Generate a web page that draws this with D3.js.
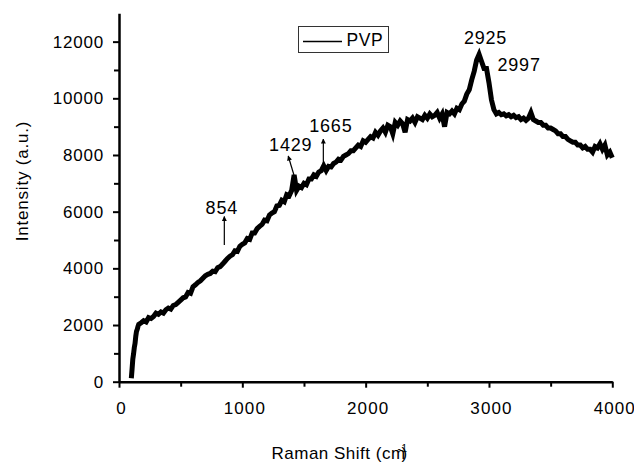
<!DOCTYPE html>
<html>
<head>
<meta charset="utf-8">
<script src="https://cdn.jsdelivr.net/npm/d3@7/dist/d3.min.js"></script>
<style>
  html, body { margin: 0; padding: 0; background: #fff; }
  svg { display: block; }
  text { font-family: "Liberation Sans", Arial, sans-serif; fill: #000; }
</style>
</head>
<body>
<svg id="chart" width="634" height="463"></svg>
<script>
// ---- Data ----
const ramanShift = [100,106,112,118,124,130,136,142,148,154,160,180,200,220,240,260,280,300,320,340,360,380,400,420,440,460,480,500,520,540,560,580,600,620,640,660,680,700,720,740,760,780,800,820,840,860,880,900,920,940,960,980,1000,1020,1040,1060,1080,1100,1120,1140,1160,1180,1200,1220,1240,1260,1280,1300,1320,1340,1360,1380,1400,1420,1440,1460,1480,1500,1520,1540,1560,1580,1600,1620,1640,1660,1680,1700,1720,1740,1760,1780,1800,1820,1840,1860,1880,1900,1920,1940,1960,1980,2000,2020,2040,2060,2080,2100,2120,2140,2160,2180,2200,2220,2240,2260,2280,2300,2320,2340,2360,2380,2400,2420,2440,2460,2480,2500,2520,2540,2560,2580,2600,2620,2640,2660,2680,2700,2720,2740,2760,2780,2800,2820,2840,2860,2880,2900,2920,2940,2960,2980,3000,3020,3040,3060,3080,3100,3120,3140,3160,3180,3200,3220,3240,3260,3280,3300,3320,3340,3360,3380,3400,3420,3440,3460,3480,3500,3520,3540,3560,3580,3600,3620,3640,3660,3680,3700,3720,3740,3760,3780,3800,3820,3840,3860,3880,3900,3920,3940,3960,3980,4000];
const intensity = [120,450,800,980,1200,1350,1600,1780,1850,1950,2020,2080,2150,2110,2260,2230,2300,2420,2380,2460,2420,2540,2600,2560,2690,2720,2800,2880,2960,2990,3150,3120,3350,3420,3500,3560,3650,3740,3790,3820,3900,3880,4020,4060,4150,4250,4350,4430,4480,4620,4600,4780,4850,4900,5050,5020,5250,5250,5400,5480,5550,5700,5680,5880,5950,6000,6200,6220,6400,6350,6600,6560,6750,7300,6750,6900,6850,7000,6950,7150,7150,7300,7250,7400,7450,7620,7450,7600,7580,7700,7750,7850,7820,7950,8000,8050,8150,8150,8250,8350,8300,8500,8450,8550,8650,8600,8800,8700,8850,8950,8800,9050,9000,8750,9150,9050,9200,9100,8800,9250,9200,9300,9150,9350,9300,9250,9400,9300,9450,9350,9400,9500,9300,9450,9000,9500,9450,9550,9450,9650,9600,9800,9900,10150,10300,10650,10950,11350,11550,11300,11050,11050,10550,9950,9600,9450,9500,9420,9450,9380,9420,9350,9400,9320,9350,9250,9300,9220,9300,9500,9250,9200,9150,9150,9050,9050,8950,8950,8900,8850,8750,8750,8650,8650,8550,8500,8450,8450,8350,8350,8250,8300,8200,8200,8100,8300,8250,8400,8200,8350,8000,8100,7900];

const seriesName = "PVP";
const xTickValues = [0, 1000, 2000, 3000, 4000];
const xMinorTicks = [500, 1500, 2500, 3500];
const yTickValues = [0, 2000, 4000, 6000, 8000, 10000, 12000];
const yMinorTicks = [1000, 3000, 5000, 7000, 9000, 11000];
const peakLabels = ["854", "1429", "1665", "2925", "2997"];
const peakShifts = [854, 1429, 1665, 2925, 2997];
const xTitle = "Raman Shift (cm";
const yTitle = "Intensity (a.u.)";

// ---- Layout ----
const svg = d3.select("#chart");
const x = d3.scaleLinear().domain([0, 4000]).range([119, 612.3]);
const y = d3.scaleLinear().domain([0, 13000]).range([381.7, 13.3]);

// ---- Curve ----
const pts = ramanShift.map((s, i) => [s, intensity[i]]);
svg.append("path")
  .datum(pts)
  .attr("fill", "none")
  .attr("stroke", "#000")
  .attr("stroke-width", 5)
  .attr("stroke-linejoin", "miter")
  .attr("d", d3.line().x(d => x(d[0])).y(d => y(d[1])));

// ---- Axes ----
function styleAxis(g) {
  g.select(".domain").attr("stroke", "#000").attr("stroke-width", 2.5);
  g.selectAll(".tick line").attr("stroke", "#000").attr("stroke-width", 2);
  g.selectAll(".tick text")
    .style("font-family", "'Liberation Sans', Arial, sans-serif")
    .style("font-size", "17px")
    .style("letter-spacing", "1.1px")
    .attr("fill", "#000");
}

const xAxisY = y(0);
svg.append("g").attr("transform", `translate(0,${xAxisY})`)
  .call(d3.axisBottom(x).tickValues(xMinorTicks).tickSize(5).tickSizeOuter(0).tickFormat(""))
  .call(g => { g.select(".domain").remove(); g.selectAll(".tick line").attr("stroke", "#000").attr("stroke-width", 2); });
const gx = svg.append("g").attr("transform", `translate(0,${xAxisY})`)
  .call(d3.axisBottom(x).tickValues(xTickValues).tickSize(6).tickPadding(14).tickSizeOuter(0).tickFormat(d3.format("d")))
  .call(styleAxis);
gx.selectAll(".tick text").attr("dx", "2px");

const yAxisX = x(0);
svg.append("g").attr("transform", `translate(${yAxisX},0)`)
  .call(d3.axisLeft(y).tickValues(yMinorTicks).tickSize(5).tickSizeOuter(0).tickFormat(""))
  .call(g => { g.select(".domain").remove(); g.selectAll(".tick line").attr("stroke", "#000").attr("stroke-width", 2); });
svg.append("g").attr("transform", `translate(${yAxisX},0)`)
  .call(d3.axisLeft(y).tickValues(yTickValues).tickSize(6).tickPadding(9).tickSizeOuter(0).tickFormat(d3.format("d")))
  .call(styleAxis)
  .call(g => g.selectAll(".tick text").style("letter-spacing", "0.8px"));

// ---- Axis titles ----
const xt = svg.append("text")
  .attr("x", 271.5).attr("y", 459)
  .style("font-size", "17px").style("letter-spacing", "0.5px")
  .text(xTitle);
xt.append("tspan").attr("dy", -7).attr("dx", -8).style("font-size", "10px").text("-1");
xt.append("tspan").attr("dy", 7).attr("dx", -6).text(")");

svg.append("text")
  .attr("transform", "translate(27.5,181) rotate(-90)")
  .attr("text-anchor", "middle")
  .style("font-size", "17px").style("letter-spacing", "0.8px")
  .text(yTitle);

// ---- Legend ----
const lg = svg.append("g");
lg.append("rect").attr("x", 298.5).attr("y", 26.5).attr("width", 90).attr("height", 26)
  .attr("fill", "#fff").attr("stroke", "#333").attr("stroke-width", 1);
lg.append("line").attr("x1", 303).attr("x2", 342).attr("y1", 41.5).attr("y2", 41.5)
  .attr("stroke", "#000").attr("stroke-width", 1.3);
lg.append("text").attr("x", 346.5).attr("y", 45.5)
  .style("font-size", "17.5px").style("letter-spacing", "0.6px").text(seriesName);

// ---- Peak annotations ----
const defs = svg.append("defs");
defs.append("marker").attr("id", "ah").attr("viewBox", "0 0 10 10")
  .attr("refX", 9).attr("refY", 5).attr("markerWidth", 5).attr("markerHeight", 5)
  .attr("orient", "auto-start-reverse").attr("markerUnits", "userSpaceOnUse")
  .append("path").attr("d", "M0,0 L10,5 L0,10 z").attr("fill", "#000");

const place = {
  "854":  { dx: -2.5, ty: 214,  arrow: [0, 245, 0, 216.5] },
  "1429": { dx: -4.5, ty: 150.7, arrow: [-1, 176, -7, 156] },
  "1665": { dx: 6.5,  ty: 132.3, arrow: [-1, 163.5, -1, 139] },
  "2925": { dx: 5.8,  ty: 44,   arrow: null },
  "2997": { dx: 30.5, ty: 71,   arrow: null }
};
peakLabels.forEach((lab, i) => {
  const px = x(peakShifts[i]);
  const p = place[lab];
  svg.append("text").attr("x", px + p.dx).attr("y", p.ty)
    .attr("text-anchor", "middle")
    .style("font-size", "18px").style("letter-spacing", "0.8px")
    .text(lab);
  if (p.arrow) {
    svg.append("line")
      .attr("x1", px + p.arrow[0]).attr("y1", p.arrow[1])
      .attr("x2", px + p.arrow[2]).attr("y2", p.arrow[3])
      .attr("stroke", "#000").attr("stroke-width", 1.2)
      .attr("marker-end", "url(#ah)");
  }
});
</script>
</body>
</html>
